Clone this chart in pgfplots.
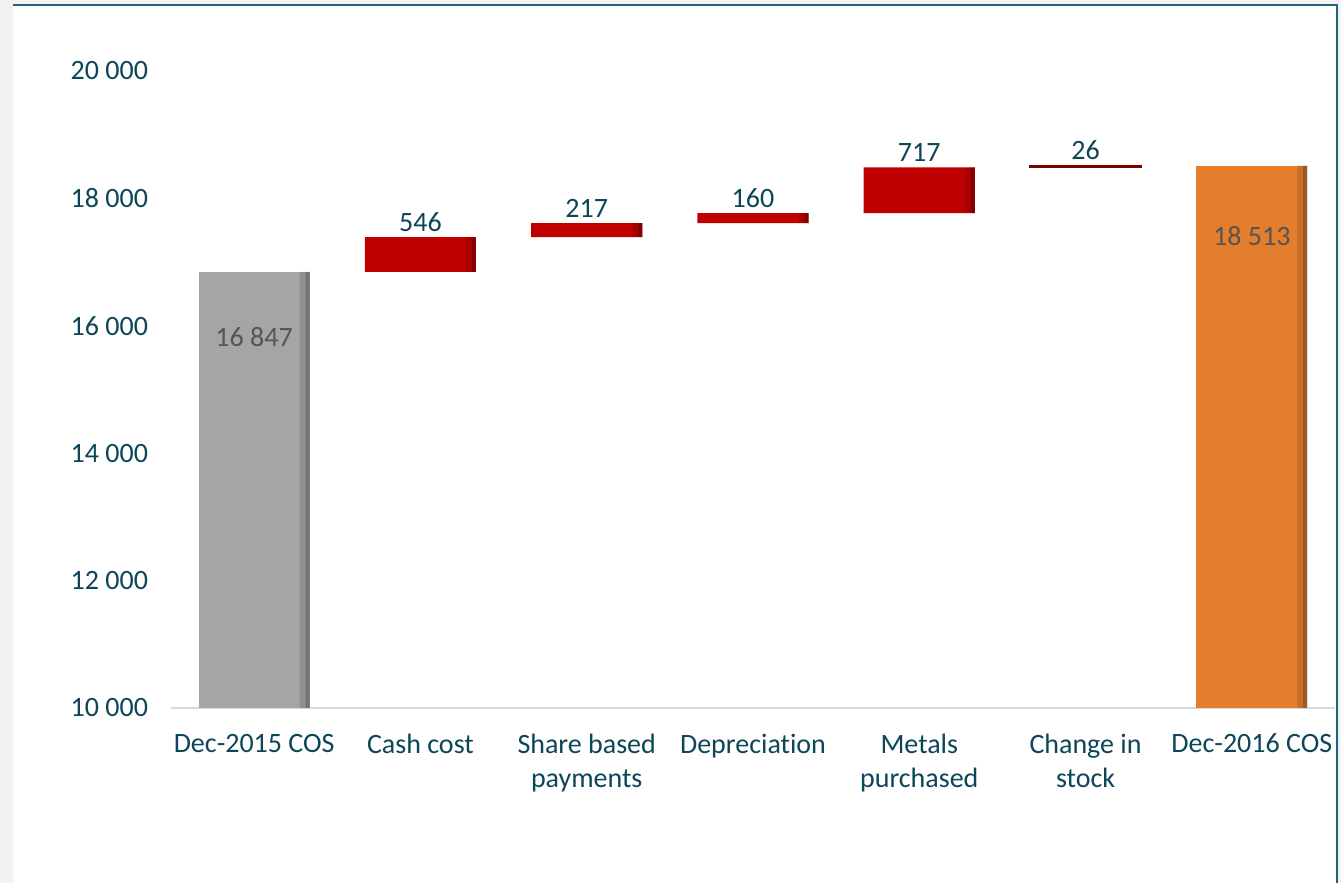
\documentclass[border=0pt]{standalone}
\usepackage{fontspec}
\setmainfont{Carlito}[Ligatures=NoCommon]
\usepackage{pgfplots}
\usepackage{pgfplotstable}
\pgfplotsset{compat=1.18}

\definecolor{tealtext}{HTML}{0D4658}
\definecolor{valgrey}{HTML}{555555}
\definecolor{framegrey}{HTML}{F2F2F2}
\definecolor{frameteal}{HTML}{1E6380}
\definecolor{axisgrey}{HTML}{D9D9D9}
\definecolor{bargrey}{HTML}{A5A5A5}
\definecolor{barred}{HTML}{C00000}
\definecolor{bardark}{HTML}{7B0000}
\definecolor{barorange}{HTML}{E57E2C}

% waterfall: invisible base + visible increments, one row per category
\pgfplotstableread{
x base  grey  red stock orange
0 0     16847 0   0     0
1 16847 0     546 0     0
2 17393 0     217 0     0
3 17610 0     160 0     0
4 17770 0     717 0     0
5 18487 0     0   26    0
6 0     0     0   0     18513
}\cosdata

% same bars as one series, for the darker right edge
\pgfplotstableread{
x base  delta
0 0     16847
1 16847 546
2 17393 217
3 17610 160
4 17770 717
5 18487 26
6 0     18513
}\edgedata

\tikzset{lbl/.style={font=\fontsize{14}{17}\selectfont}}
\pgfplotsset{
  wfall/.style={
    scale only axis, width=582pt, height=318.5pt,
    at={(85.5pt,87.5pt)}, anchor=south west,
    xmin=-0.5, xmax=6.5, ymin=10000, ymax=20000,
    enlargelimits=false, ybar stacked, bar width=0.668,
  },
}

\begin{document}
\begin{tikzpicture}
  \useasboundingbox (0,0) rectangle (670.5pt,441.5pt);
  \fill[framegrey] (0,0) rectangle (670.5pt,441.5pt);
  \fill[white] (6.5pt,0) rectangle (668.5pt,439pt);
  \draw[frameteal, line width=1pt] (6.5pt,439pt) -- (668.5pt,439pt) -- (668.5pt,0);

  \begin{axis}[wfall,
      axis x line*=bottom, axis y line*=left,
      y axis line style={draw=none},
      x axis line style={draw=axisgrey, line width=0.75pt},
      major tick length=0pt, tick style={draw=none},
      scaled y ticks=false,
      xtick={0,...,6},
      xticklabels={Dec-2015 COS, Cash cost, {Share based\\payments}, Depreciation,
        {Metals\\purchased}, {Change in\\stock}, Dec-2016 COS},
      xticklabel style={lbl, align=center, text=tealtext, yshift=-9.5pt},
      ytick={10000,12000,...,20000},
      yticklabels={10 000,12 000,14 000,16 000,18 000,20 000},
      yticklabel style={lbl, text=tealtext, xshift=-8pt},
    ]
    \addplot[draw=none, fill=none] table[x=x, y=base] {\cosdata};
    \addplot[draw=none, fill=bargrey] table[x=x, y=grey] {\cosdata};
    \addplot[draw=none, fill=barred] table[x=x, y=red] {\cosdata};
    \addplot[draw=none, fill=bardark] table[x=x, y=stock] {\cosdata};
    \addplot[draw=none, fill=barorange] table[x=x, y=orange] {\cosdata};
  \end{axis}

  % darker right edges
  \begin{axis}[wfall, hide axis, bar width=0.06, bar shift=0.304]
    \addplot[draw=none, fill=none] table[x=x, y=base] {\edgedata};
    \addplot[draw=none, fill=black, fill opacity=0.12] table[x=x, y=delta] {\edgedata};
  \end{axis}
  \begin{axis}[wfall, hide axis, bar width=0.025, bar shift=0.3215]
    \addplot[draw=none, fill=none] table[x=x, y=base] {\edgedata};
    \addplot[draw=none, fill=black, fill opacity=0.2] table[x=x, y=delta] {\edgedata};
  \end{axis}

  % thin "change in stock" bar drawn a little heavier, plus value labels
  \begin{axis}[wfall, hide axis, clip=false]
    \addplot[draw=none, fill=none] coordinates {(5,18487)};
    \addplot[fill=bardark, draw=bardark, line width=0.6pt] coordinates {(5,26)};
    \node[lbl, text=valgrey] at (axis cs:0,16847) [yshift=-32.5pt] {16 847};
    \node[lbl, text=valgrey] at (axis cs:6,18513) [yshift=-35pt] {18 513};
    \node[lbl, text=tealtext, anchor=south, inner sep=2.5pt] at (axis cs:1,17393) {546};
    \node[lbl, text=tealtext, anchor=south, inner sep=2.5pt] at (axis cs:2,17610) {217};
    \node[lbl, text=tealtext, anchor=south, inner sep=2.5pt] at (axis cs:3,17770) {160};
    \node[lbl, text=tealtext, anchor=south, inner sep=2.5pt] at (axis cs:4,18487) {717};
    \node[lbl, text=tealtext, anchor=south, inner sep=3pt] at (axis cs:5,18513) {26};
  \end{axis}
\end{tikzpicture}
\end{document}
